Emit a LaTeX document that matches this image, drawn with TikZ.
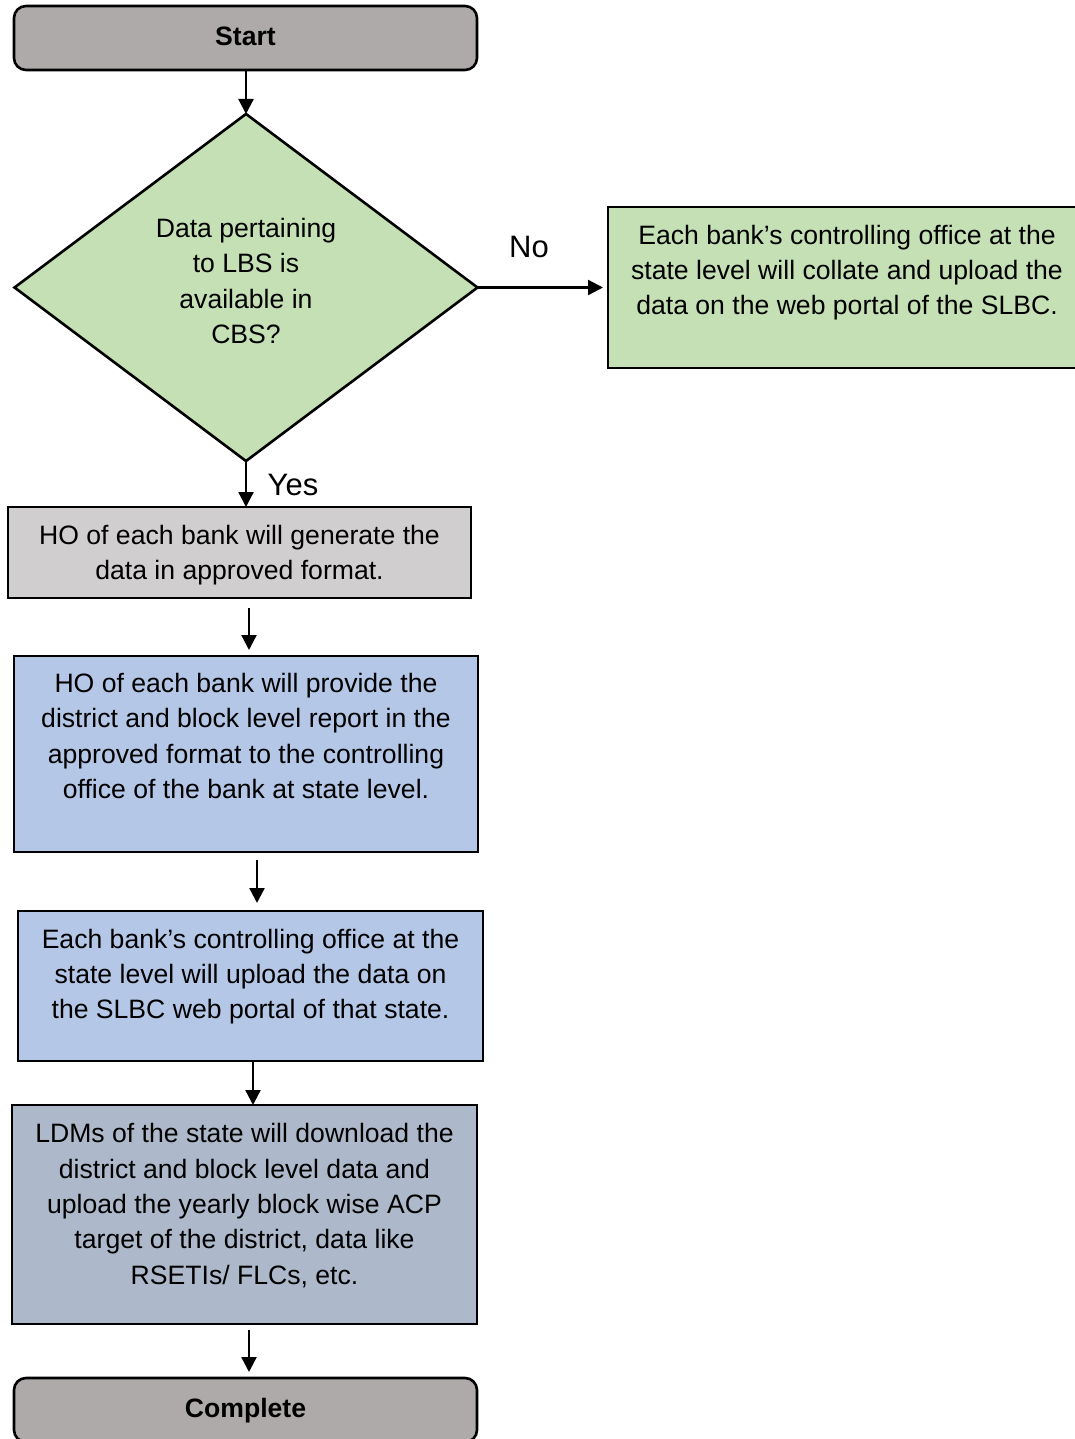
\documentclass[tikz,border=0pt]{standalone}
\usepackage{fontspec}
\setmainfont{Liberation Sans}
\usetikzlibrary{shapes.geometric,arrows.meta,calc}
\definecolor{termgray}{HTML}{AEAAAA}
\definecolor{dgreen}{HTML}{C5E0B4}
\definecolor{lgray}{HTML}{D0CECE}
\definecolor{lblue}{HTML}{B4C7E7}
\definecolor{sblue}{HTML}{ADB9CA}
\begin{document}
\begin{tikzpicture}[x=1pt,y=-1pt,
  box/.style={draw=black,line width=2.6pt,inner sep=0pt,outer sep=0pt},
  term/.style={box,rounded corners=12pt,fill=termgray,minimum width=463pt,minimum height=64pt},
  txt/.style={align=center,font=\fontsize{26.6}{35.3}\selectfont,inner sep=0pt},
  btxt/.style={align=center,font=\fontsize{26.6}{35.3}\selectfont\bfseries,inner sep=0pt},
  lbl/.style={font=\fontsize{31}{36}\selectfont,inner sep=0pt},
  arr/.style={line width=2.3pt,-{Triangle[width=15pt,length=15pt]}}]
\useasboundingbox (0,0) rectangle (1075,1439);

% shapes
\node[term] (start) at (245.5,38) {};
\node[box,diamond,fill=dgreen,minimum width=463pt,minimum height=347pt] (dia) at (246,287.5) {};
\node[box,fill=dgreen,minimum width=478pt,minimum height=161pt] (nobox) at (847,287.5) {};
\node[box,fill=lgray,minimum width=463pt,minimum height=91pt] (b3) at (239.5,552.5) {};
\node[box,fill=lblue,minimum width=464pt,minimum height=196pt] (b4) at (246,754) {};
\node[box,fill=lblue,minimum width=465pt,minimum height=150pt] (b5) at (250.5,986) {};
\node[box,fill=sblue,minimum width=465pt,minimum height=219pt] (b6) at (244.5,1214.5) {};
\node[term] (done) at (245.5,1410) {};

% texts
\node[btxt] (tstart) at (245.5,36) {Start};
\node[txt] (tdia) at (246,281) {Data pertaining\\to LBS is\\available in\\CBS?};
\node[txt] (tno) at (847,272.5) {Each bank’s controlling office at the\\state level will collate and upload the\\data on the web portal of the SLBC.};
\node[txt] (t3) at (239.5,555) {HO of each bank will generate the\\data in approved format.};
\node[txt] (t4) at (246,736) {HO of each bank will provide the\\district and block level report in the\\approved format to the controlling\\office of the bank at state level.};
\node[txt] (t5) at (250.5,976.5) {Each bank’s controlling office at the\\state level will upload the data on\\the SLBC web portal of that state.};
\node[txt] (t6) at (244.5,1205.5) {LDMs of the state will download the\\district and block level data and\\upload the yearly block wise ACP\\target of the district, data like\\RSETIs/ FLCs, etc.};
\node[btxt] (tdone) at (245.5,1411) {Complete};
\node[lbl] (lno) at (529,247) {No};
\node[lbl] (lyes) at (293,485) {Yes};

% free arrow ends
\coordinate (a1s) at (249,608);
\coordinate (a1e) at (249,650);
\coordinate (a2s) at (257,860);
\coordinate (a2e) at (257,903);
\coordinate (a4s) at (249,1330);
\coordinate (a4e) at (249,1372);

% connectors
\draw[arr] (start.south -| dia.north) -- (dia.north);
\draw[arr,shorten >=5pt] (dia.east) -- (nobox.west |- dia.east);
\draw[arr] (dia.south) -- (dia.south |- b3.north);
\draw[arr] (a1s) -- (a1e);
\draw[arr] (a2s) -- (a2e);
\draw[arr] ([xshift=2.5pt]b5.south) -- ([xshift=2.5pt]b5.south |- b6.north);
\draw[arr] (a4s) -- (a4e);
\end{tikzpicture}
\end{document}
